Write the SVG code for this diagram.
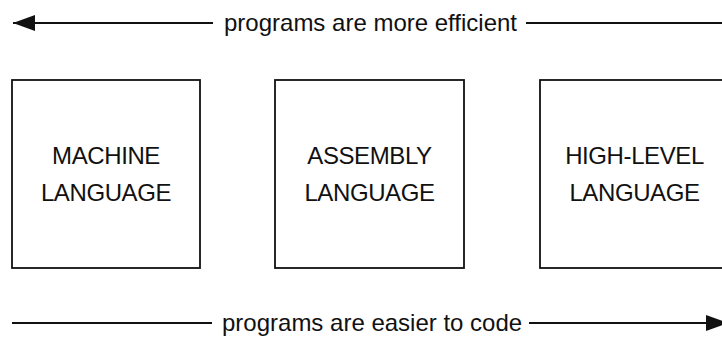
<svg xmlns="http://www.w3.org/2000/svg" width="722" height="337" viewBox="0 0 722 337">
  <style>
    text { font-family: "Liberation Sans", Arial, Helvetica, sans-serif; font-size: 24px; fill: #111; }
    .box { fill: #fff; stroke: #111; stroke-width: 1.8; }
    .label { text-anchor: middle; letter-spacing: -0.4px; }
    .wire { stroke: #111; stroke-width: 2; fill: none; }
  </style>
  <defs>
    <marker id="head" markerUnits="userSpaceOnUse" markerWidth="24" markerHeight="18" refX="22" refY="8" orient="auto">
      <path d="M0,0 L22,8 L0,16 Z" fill="#111"/>
    </marker>
  </defs>
  <rect width="722" height="337" fill="#fff"/>

  <g id="connectors">
    <g id="efficiency-scale">
      <line class="wire" x1="213" y1="23" x2="13" y2="23" marker-end="url(#head)"/>
      <line class="wire" x1="526" y1="23" x2="722" y2="23"/>
      <text x="224" y="31">programs are more efficient</text>
    </g>
    <g id="ease-scale">
      <line class="wire" x1="12" y1="323" x2="212" y2="323"/>
      <line class="wire" x1="529" y1="323" x2="728" y2="323" marker-end="url(#head)"/>
      <text x="222" y="331">programs are easier to code</text>
    </g>
  </g>

  <g id="machine-language">
    <rect class="box" x="12" y="80" width="188" height="188"/>
    <text class="label" x="106" y="164">MACHINE</text>
    <text class="label" x="106" y="201">LANGUAGE</text>
  </g>

  <g id="assembly-language">
    <rect class="box" x="275" y="80" width="189" height="188"/>
    <text class="label" x="369.5" y="164">ASSEMBLY</text>
    <text class="label" x="369.5" y="201">LANGUAGE</text>
  </g>

  <g id="high-level-language">
    <rect class="box" x="540" y="80" width="189" height="188"/>
    <text class="label" x="634.5" y="164">HIGH-LEVEL</text>
    <text class="label" x="634.5" y="201">LANGUAGE</text>
  </g>
</svg>
